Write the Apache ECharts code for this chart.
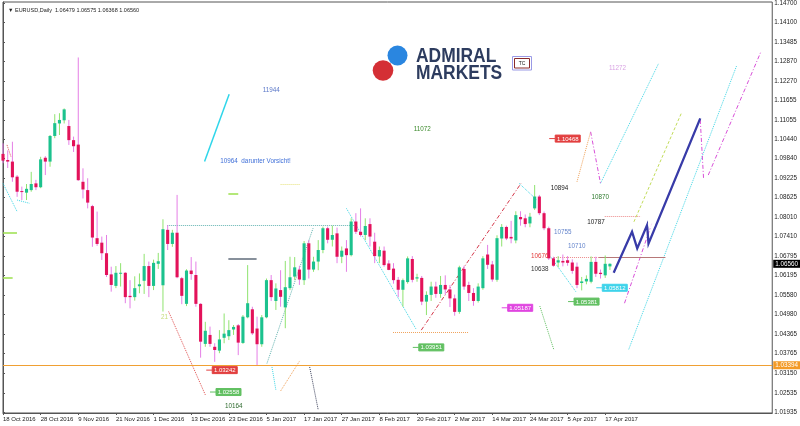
<!DOCTYPE html>
<html><head><meta charset="utf-8">
<script src="https://cdn.jsdelivr.net/npm/echarts@6/dist/echarts.min.js"></script>
<style>html,body{margin:0;padding:0;background:#fff}#c{width:800px;height:426px}</style>
</head><body><div id="c"></div>
<script>
// ---------- data ----------
const symbolName = 'EURUSD,Daily';
const dateLabels = ['18 Oct 2016','28 Oct 2016','9 Nov 2016','21 Nov 2016','1 Dec 2016','13 Dec 2016','23 Dec 2016','5 Jan 2017','17 Jan 2017','27 Jan 2017','8 Feb 2017','20 Feb 2017','2 Mar 2017','14 Mar 2017','24 Mar 2017','5 Apr 2017','17 Apr 2017'];
const barsPerDateLabel = 8;
const priceTicks = [1.14700,1.14100,1.13485,1.12870,1.12270,1.11655,1.11055,1.10440,1.09840,1.09225,1.08625,1.08010,1.07410,1.06795,1.06195,1.05580,1.04980,1.04365,1.03765,1.03150,1.02535,1.01935];

const opens = [1.0999,1.0980,1.0975,1.0928,1.0883,1.0878,1.0886,1.0907,1.0895,1.0987,1.0975,1.1055,1.1094,1.1104,1.1086,1.1042,1.1028,1.0912,1.0886,1.0836,
1.0736,1.0722,1.0689,1.0623,1.0587,1.0626,1.0628,1.0556,1.0552,1.0586,1.0603,1.0649,1.0587,1.0656,1.0589,1.0762,1.0718,1.0753,1.0611,1.0531,
1.0635,1.0621,1.0531,1.0406,1.0434,1.0397,1.0385,1.0425,1.0430,1.0451,1.0464,1.0409,1.0489,1.0514,1.0454,1.0405,1.0489,1.0605,1.0540,1.0574,
1.0520,1.0580,1.0616,1.0638,1.0605,1.0720,1.0638,1.0663,1.0699,1.0767,1.0731,1.0751,1.0678,1.0704,1.0683,1.0788,1.0756,1.0746,1.0780,1.0725,
1.0679,1.0697,1.0657,1.0641,1.0606,1.0575,1.0599,1.0671,1.0610,1.0612,1.0538,1.0559,1.0585,1.0562,1.0590,1.0576,1.0548,1.0506,1.0640,1.0590,
1.0565,1.0540,1.0580,1.0685,1.0654,1.0606,1.0735,1.0771,1.0740,1.0729,1.0802,1.0798,1.0782,1.0829,1.0866,1.0814,1.0767,1.0673,1.0660,1.0665,
1.0667,1.0660,1.0647,1.0596,1.0601,1.0600,1.0662,1.0628,1.0620,1.06479];
const highs = [1.1032,1.1010,1.1037,1.0933,1.0897,1.0905,1.0943,1.0918,1.0990,1.0992,1.1058,1.1123,1.1126,1.1141,1.1105,1.1053,1.1300,1.0954,1.0923,1.0840,
1.0819,1.0741,1.0746,1.0647,1.0649,1.0658,1.0630,1.0605,1.0617,1.0626,1.0687,1.0663,1.0669,1.0690,1.0795,1.0777,1.0762,1.0871,1.0615,1.0639,
1.0677,1.0663,1.0533,1.0475,1.0460,1.0408,1.0449,1.0501,1.0480,1.0465,1.0468,1.0496,1.0652,1.0522,1.0491,1.0496,1.0610,1.0621,1.0595,1.0636,
1.0665,1.0678,1.0677,1.0650,1.0727,1.0730,1.0678,1.0730,1.0772,1.0772,1.0775,1.0769,1.0710,1.0730,1.0798,1.0814,1.0829,1.0798,1.0798,1.0753,
1.0710,1.0710,1.0667,1.0658,1.0615,1.0610,1.0679,1.0680,1.0625,1.0618,1.0570,1.0600,1.0600,1.0618,1.0620,1.0590,1.0560,1.0650,1.0650,1.0600,
1.0580,1.0595,1.0680,1.0715,1.0665,1.0745,1.0780,1.0775,1.0790,1.0820,1.0820,1.0810,1.0815,1.0902,1.0871,1.0819,1.0772,1.0678,1.0680,1.0685,
1.0680,1.0670,1.0660,1.0615,1.0620,1.0679,1.0678,1.0638,1.0682,1.06575];
const lows = [1.0970,1.0955,1.0912,1.0865,1.0855,1.0855,1.0881,1.0886,1.0892,1.0933,1.0959,1.1048,1.1058,1.1094,1.1027,1.1005,1.0915,1.0860,1.0829,1.0709,
1.0712,1.0668,1.0615,1.0569,1.0580,1.0585,1.0533,1.0517,1.0541,1.0564,1.0562,1.0552,1.0574,1.0640,1.0507,1.0699,1.0709,1.0611,1.0530,1.0524,
1.0606,1.0522,1.0363,1.0397,1.0397,1.0350,1.0377,1.0408,1.0418,1.0434,1.0371,1.0406,1.0486,1.0434,1.0340,1.0397,1.0486,1.0540,1.0512,1.0522,
1.0455,1.0574,1.0605,1.0590,1.0590,1.0610,1.0631,1.0636,1.0689,1.0720,1.0710,1.0658,1.0658,1.0631,1.0679,1.0749,1.0741,1.0730,1.0710,1.0658,
1.0658,1.0647,1.0636,1.0594,1.0552,1.0522,1.0594,1.0598,1.0600,1.0527,1.0496,1.0540,1.0550,1.0550,1.0560,1.0521,1.0494,1.0500,1.0575,1.0540,
1.0525,1.0535,1.0575,1.0640,1.0600,1.0600,1.0710,1.0730,1.0720,1.0720,1.0775,1.0770,1.0770,1.0824,1.0808,1.0761,1.0668,1.0647,1.0645,1.0648,
1.0650,1.0625,1.0580,1.0573,1.0592,1.0595,1.0615,1.0610,1.0612,1.06368];
const closes = [1.0978,1.0975,1.0926,1.0881,1.0880,1.0890,1.0905,1.0895,1.0982,1.0975,1.1055,1.1095,1.1105,1.1138,1.1042,1.1023,1.0917,1.0888,1.0847,1.0738,
1.0718,1.0689,1.0621,1.0590,1.0628,1.0628,1.0552,1.0552,1.0580,1.0592,1.0649,1.0587,1.0659,1.0664,1.0764,1.0718,1.0753,1.0614,1.0556,1.0635,
1.0624,1.0531,1.0413,1.0447,1.0406,1.0387,1.0420,1.0438,1.0449,1.0459,1.0410,1.0491,1.0533,1.0439,1.0405,1.0489,1.0605,1.0552,1.0579,1.0553,
1.0583,1.0614,1.0645,1.0607,1.0720,1.0638,1.0663,1.0699,1.0767,1.0731,1.0746,1.0678,1.0697,1.0683,1.0788,1.0756,1.0746,1.0774,1.0741,1.0680,
1.0699,1.0652,1.0637,1.0605,1.0575,1.0605,1.0673,1.0606,1.0614,1.0538,1.0559,1.0585,1.0562,1.0590,1.0576,1.0548,1.0506,1.0645,1.0585,1.0565,
1.0540,1.0585,1.0673,1.0653,1.0607,1.0736,1.0771,1.0735,1.0735,1.0808,1.0795,1.0780,1.0803,1.0866,1.0814,1.0767,1.0673,1.0650,1.0667,1.0660,
1.0659,1.0634,1.0590,1.0601,1.0609,1.0662,1.0625,1.0624,1.0656,1.06560];

const supportLevel = 1.03394;

// annotation objects (bar index, price)
const cyanSolidSegs = [[42.84,1.0975,48.07,1.1185]];
const limeSolidSegs = [[0,1.0753,2.97,1.0753],[0,1.0613,2.05,1.0613],[47.9,1.0874,50.0,1.0874]];
const slateSolidSegs = [[47.9,1.0673,53.9,1.0673]];
const brownSolidSegs = [[126.7,1.0678,140.8,1.0678]];
const yellowDottedSegs = [[59.0,1.0904,63.1,1.0904]];
const tealDottedSegs = [[34.9,1.0777,74.8,1.0777],[56.1,1.0345,65.9,1.0767]];
const cyanDottedSegs = [[0,1.0907,3.0,1.0819],[3.0,1.0855,5.6,1.0845],[57.1,1.0340,58.0,1.0262],[73.0,1.0829,87.8,1.0452],[109.7,1.0907,113.5,1.0855],[116.4,1.0678,121.8,1.0568],[127.0,1.0907,139.3,1.1280],[133.0,1.0389,155.9,1.1273]];
const orangeDottedSegs = [[59.0,1.0259,63.1,1.0354],[82.9,1.0441,99.0,1.0441],[122.0,1.0912,124.9,1.1068]];
const redDottedSegs = [[0.85,1.1027,1.7,1.0990],[35.2,1.0507,43.0,1.0247]];
const salmonDottedSegs = [[117.1,1.0678,126.7,1.0678],[127.9,1.0804,135.7,1.0804]];
const darkDottedSegs = [[65.1,1.0340,67.0,1.0200]];
const greenDottedSegs = [[114.1,1.0524,117.1,1.0387]];
const redDashDotSegs = [[88.9,1.0449,110.1,1.0907]];
const magentaDashDotSegs = [[124.9,1.1068,127.0,1.0907],[132.1,1.0533,137.9,1.0782],[148.2,1.1105,148.9,1.0923],[149.9,1.0933,161.1,1.1318]];
const limeDashedSegs = [[134.1,1.0787,144.3,1.1130]];
const forecastPath = [[129.8,1.0628],[133.7,1.0756],[134.8,1.0704],[136.9,1.0777],[137.2,1.0719],[148.2,1.1110]];
const waveMarkIdx = [136.0,137.8];
const waveMarkPrices = [1.0798,1.0780];

const priceLabelValues = [1.10468,1.03242,1.02558,1.03951,1.05187,1.05381,1.05812];
const priceLabelIdx = [116.1,43.2,44.0,87.1,106.0,120.1,126.1];

const noteTexts = ['11944','10964  darunter Vorsicht!','11072','11272','10894','10870','10787','10755','10710','10676','10638','10164','21'];
const noteIdx = [55.2,46.2,87.3,128.8,116.4,125.1,124.2,117.1,120.1,112.2,112.2,47.2,33.6];
const notePrices = [1.1198,1.0975,1.1076,1.1267,1.0892,1.0865,1.0787,1.0754,1.0712,1.0678,1.0639,1.0210,1.0488];

// ---------- styles ----------
const FONT = 'Liberation Sans';
const priceLabelColors = ['#e23f3f','#e23f3f','#62c062','#62c062','#e046e0','#62c062','#3fd3ea'];
const noteColors = ['#5b78c8','#3f6fd8','#3d8b2d','#d9a3e3','#1a1a1a','#2d7a2d','#1a1a1a','#6585cc','#6585cc','#e23a3a','#333333','#2d6a2d','#c5dc7a'];
const bull = {body:'#1cc28e', wick:'#8fe36f'};
const bear = {body:'#e3125a', wick:'#e57fe6'};

const candleData = opens.map((o,i)=>[i,o,closes[i],lows[i],highs[i]]);
const last = opens.length-1;
const segData = s => s.map(a=>({coords:[[a[0],a[1]],[a[2],a[3]]]}));
function linesSeries(segs, color, type, width){
  return {type:'lines', coordinateSystem:'cartesian2d', silent:true, z:3,
    lineStyle:{color:color, width:width||1, type:type||'solid', opacity:1},
    data: segData(segs)};
}
const axisBox = (bg) => ({show:true, position:'end', distance:1, color:'#fff', backgroundColor:bg, padding:[1,2,1,2], fontSize:6.3, fontFamily:FONT});

const chart = echarts.init(document.getElementById('c'), null, {renderer:'canvas'});
chart.setOption({
  animation:false,
  backgroundColor:'#fff',
  title:{
    text:'▼ ' + symbolName + '  ' + [opens[last],highs[last],lows[last],closes[last]].map(v=>v.toFixed(5)).join(' '),
    left:3, top:2,
    textStyle:{fontSize:5.5, fontWeight:'normal', color:'#222', fontFamily:FONT}
  },
  grid:{left:2, top:2, right:26, bottom:13, show:true, borderColor:'#555', borderWidth:1, backgroundColor:'#fff'},
  xAxis:{
    type:'value', min:0, max:163.5,
    splitLine:{show:false},
    axisLine:{show:true, lineStyle:{color:'#555'}},
    axisTick:{show:true, customValues: dateLabels.map((d,k)=>k*barsPerDateLabel), length:2, lineStyle:{color:'#555'}},
    axisLabel:{customValues: dateLabels.map((d,k)=>k*barsPerDateLabel), formatter:v=>dateLabels[Math.round(v/barsPerDateLabel)],
      fontSize:6, color:'#222', fontFamily:FONT, align:'left', margin:3}
  },
  yAxis:{
    type:'value', position:'right', min:1.019035, max:1.147312, scale:true,
    splitLine:{show:false},
    axisLine:{show:true, lineStyle:{color:'#555'}},
    axisTick:{show:true, customValues:priceTicks, length:2, lineStyle:{color:'#555'}},
    axisLabel:{customValues:priceTicks, formatter:v=>v.toFixed(5), fontSize:6.3, color:'#222', fontFamily:FONT, margin:2}
  },
  graphic:[
    {type:'circle', shape:{cx:397.5, cy:55.5, r:10}, style:{fill:'#2a86e0'}},
    {type:'circle', shape:{cx:383, cy:70.5, r:10.3}, style:{fill:'#d42f35'}},
    {type:'text', x:416, y:56, scaleX:0.83, originX:0, originY:0, style:{text:'ADMIRAL', fontSize:21, fontWeight:'bold', fontFamily:FONT, fill:'#2d3c5f', verticalAlign:'middle', align:'left'}},
    {type:'text', x:416, y:73, scaleX:0.83, originX:0, originY:0, style:{text:'MARKETS', fontSize:21, fontWeight:'bold', fontFamily:FONT, fill:'#2d3c5f', verticalAlign:'middle', align:'left'}},
    {type:'rect', shape:{x:512.5, y:56.5, width:19, height:13.5}, style:{fill:'#fff', stroke:'#9a9ae6', lineWidth:1}},
    {type:'rect', shape:{x:514.5, y:58.5, width:15, height:9.5}, style:{fill:'#fff', stroke:'#8a2a2a', lineWidth:1}},
    {type:'text', x:522, y:63.3, style:{text:'TC', fontSize:5, fontFamily:FONT, fill:'#222', align:'center', verticalAlign:'middle'}}
  ],
  series:[
    {type:'line', name:'levels', data:[], silent:true, symbol:'none',
      markLine:{
        silent:true, symbol:'none', animation:false, precision:5,
        data:[
          {yAxis:supportLevel, lineStyle:{color:'#f0a033', width:1.2, type:'solid'},
           label:Object.assign(axisBox('#f39a26'), {formatter:()=>supportLevel.toFixed(5)})},
          {yAxis:closes[last], lineStyle:{color:'rgba(0,0,0,0)', width:1},
           label:Object.assign(axisBox('#000'), {formatter:()=>closes[last].toFixed(5)})}
        ]
      }
    },
    linesSeries(tealDottedSegs,'#62b3b0','dotted'),
    linesSeries(yellowDottedSegs,'#e6e27a','dotted'),
    linesSeries(cyanDottedSegs,'#3fd7e6','dotted'),
    linesSeries(orangeDottedSegs,'#f0a25a','dotted'),
    linesSeries(redDottedSegs,'#e05050','dotted'),
    linesSeries(salmonDottedSegs,'#ec8a8a','dotted'),
    linesSeries(darkDottedSegs,'#3a3f5a','dotted'),
    linesSeries(greenDottedSegs,'#5fbf5f','dotted'),
    linesSeries(redDashDotSegs,'#d5374a',[4,2,1,2]),
    linesSeries(magentaDashDotSegs,'#d84fd8',[4,2,1,2]),
    linesSeries(limeDashedSegs,'#c2dc5a',[3,2]),
    linesSeries(cyanSolidSegs,'#2fd6ea','solid',1.5),
    linesSeries(limeSolidSegs,'#9be04c','solid',1.5),
    linesSeries(slateSolidSegs,'#5f6b7a','solid',1.5),
    linesSeries(brownSolidSegs,'#b77878','solid',1),
    {
      type:'custom', name:'candles', z:5,
      renderItem:(params, api)=>{
        const i = api.value(0), o = api.value(1), c = api.value(2), l = api.value(3), h = api.value(4);
        const pO = api.coord([i,o]), pC = api.coord([i,c]), pL = api.coord([i,l]), pH = api.coord([i,h]);
        const w = api.size([1,0])[0]*0.66;
        const up = c >= o;
        const st = up ? bull : bear;
        return {type:'group', children:[
          {type:'line', shape:{x1:pH[0], y1:pH[1], x2:pL[0], y2:pL[1]}, style:{stroke:st.wick, lineWidth:1}},
          {type:'rect', shape:{x:pO[0]-w/2, y:Math.min(pO[1],pC[1]), width:w, height:Math.max(1,Math.abs(pO[1]-pC[1]))}, style:{fill:st.body}}
        ]};
      },
      data: candleData
    },
    {type:'lines', coordinateSystem:'cartesian2d', polyline:true, silent:true, z:6,
      lineStyle:{color:'#383ba8', width:2.3, opacity:1}, data:[{coords:forecastPath}]},
    {type:'scatter', z:6, symbol:'emptyCircle', symbolSize:5, itemStyle:{color:'#fff', borderColor:'#f2a23c', borderWidth:1},
      data: waveMarkIdx.map((x,k)=>[x, waveMarkPrices[k]])},
    {
      type:'custom', name:'priceLabels', z:7,
      renderItem:(params, api)=>{
        const k = params.dataIndex;
        const p0 = api.coord([api.value(0), api.value(1)]);
        const bx = p0[0]+6, bw = 25, bh = 7;
        return {type:'group', children:[
          {type:'line', shape:{x1:p0[0], y1:p0[1], x2:bx, y2:p0[1]}, style:{stroke:priceLabelColors[k], lineWidth:1}},
          {type:'rect', shape:{x:bx, y:p0[1]-bh/2, width:bw, height:bh}, style:{fill:priceLabelColors[k], stroke:priceLabelColors[k], lineWidth:1}},
          {type:'text', x:bx+bw/2, y:p0[1]+0.3, style:{text:priceLabelValues[k].toFixed(5), fill:'#fff', fontSize:6, fontFamily:FONT, align:'center', verticalAlign:'middle'}}
        ]};
      },
      data: priceLabelIdx.map((x,k)=>[x, priceLabelValues[k]])
    },
    {
      type:'custom', name:'notes', z:7,
      renderItem:(params, api)=>{
        const k = params.dataIndex;
        const p = api.coord([api.value(0), api.value(1)]);
        return {type:'text', x:p[0], y:p[1], style:{text:noteTexts[k], fill:noteColors[k], fontSize:6.3, fontFamily:FONT, align:'left', verticalAlign:'middle'}};
      },
      data: noteIdx.map((x,k)=>[x, notePrices[k]])
    }
  ]
});
</script>
</body></html>
